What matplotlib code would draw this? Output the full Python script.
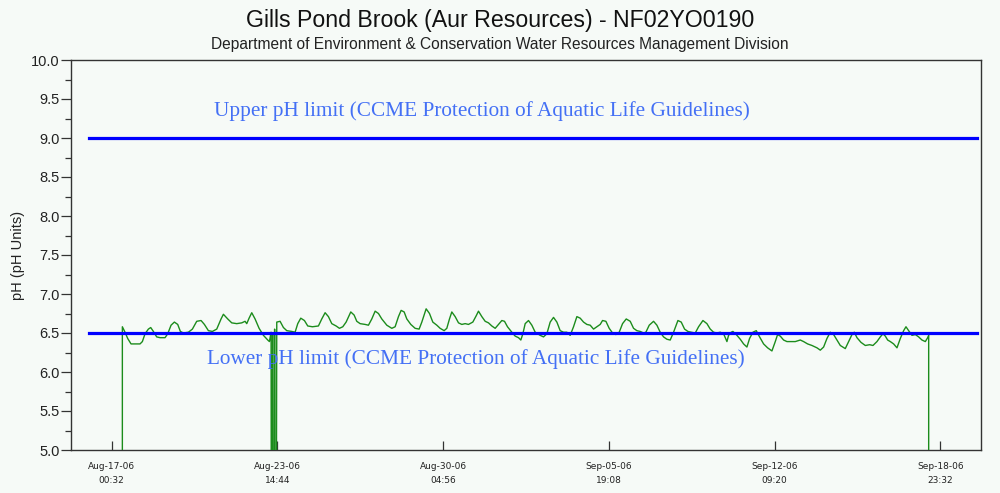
import matplotlib
matplotlib.use("Agg")
import matplotlib.pyplot as plt
import matplotlib.dates as mdates
from matplotlib.ticker import MultipleLocator, FormatStrFormatter
import numpy as np
import pandas as pd

# ---------------- data ----------------
title = "Gills Pond Brook (Aur Resources) - NF02YO0190"
subtitle = "Department of Environment & Conservation Water Resources Management Division"
y_label = "pH (pH Units)"
upper_text = "Upper pH limit (CCME Protection of Aquatic Life Guidelines)"
lower_text = "Lower pH limit (CCME Protection of Aquatic Life Guidelines)"

upper_limit = 9.0
lower_limit = 6.5

series_start = "2006-08-17 00:32"

tick_times = ["2006-08-17 00:32", "2006-08-23 14:44", "2006-08-30 04:56",
              "2006-09-05 19:08", "2006-09-12 09:20", "2006-09-18 23:32"]
tick_labels = ["Aug-17-06\n00:32", "Aug-23-06\n14:44", "Aug-30-06\n04:56",
               "Sep-05-06\n19:08", "Sep-12-06\n09:20", "Sep-18-06\n23:32"]

# days since series_start, pH readings (0.0 = logger out of water / no reading)
days_a = [0.423, 0.423, 0.529, 0.635, 0.768, 0.927, 1.126, 1.219, 1.325, 1.458,
          1.551, 1.657, 1.789, 1.922, 2.121, 2.227, 2.360, 2.492, 2.625, 2.731,
          2.850, 3.049, 3.209, 3.381, 3.554, 3.686, 3.845, 4.004, 4.177, 4.349,
          4.442, 4.615, 4.774, 4.973, 5.172, 5.304, 5.371, 5.464, 5.570, 5.702,
          5.862, 6.034, 6.207, 6.273, 6.339,
          6.360, 6.400, 6.440, 6.480, 6.520,
          6.565, 6.697, 6.830, 6.963, 7.162, 7.294, 7.400, 7.520, 7.665, 7.798,
          7.984, 8.222, 8.355]
ph_a = [0.00, 6.58, 6.51, 6.43, 6.36, 6.36, 6.36, 6.39, 6.49, 6.55,
        6.57, 6.52, 6.45, 6.44, 6.44, 6.49, 6.60, 6.64, 6.61, 6.52,
        6.50, 6.51, 6.55, 6.65, 6.66, 6.61, 6.53, 6.52, 6.55, 6.68,
        6.74, 6.68, 6.63, 6.62, 6.63, 6.65, 6.62, 6.69, 6.76, 6.68,
        6.56, 6.47, 6.41, 6.39, 6.51,
        0.00, 6.50, 0.00, 6.55, 0.00,
        6.64, 6.65, 6.57, 6.53, 6.52, 6.51, 6.62, 6.69, 6.66, 6.59,
        6.58, 6.59, 6.68]

days_b = [8.488, 8.620, 8.753, 8.926, 9.058, 9.191, 9.324, 9.509, 9.642, 9.748,
          9.881, 10.080, 10.212, 10.345, 10.478, 10.610, 10.743, 10.942, 11.141, 11.273,
          11.406, 11.512, 11.632, 11.738, 11.897, 12.069, 12.228, 12.335, 12.507, 12.640,
          12.772, 12.932, 13.064, 13.223, 13.329, 13.435, 13.528, 13.661, 13.794, 13.926,
          14.059, 14.191, 14.364, 14.497, 14.589, 14.722, 14.855, 14.987, 15.120, 15.253,
          15.385, 15.518, 15.624, 15.743, 15.916, 16.049, 16.181, 16.274, 16.354, 16.447]
ph_b = [6.76, 6.71, 6.62, 6.59, 6.56, 6.58, 6.64, 6.77, 6.73, 6.65,
        6.62, 6.61, 6.60, 6.68, 6.78, 6.75, 6.68, 6.60, 6.56, 6.58,
        6.71, 6.79, 6.77, 6.68, 6.61, 6.56, 6.55, 6.64, 6.81, 6.75,
        6.64, 6.60, 6.56, 6.53, 6.56, 6.68, 6.77, 6.71, 6.63, 6.61,
        6.62, 6.61, 6.64, 6.72, 6.78, 6.71, 6.65, 6.63, 6.59, 6.56,
        6.61, 6.66, 6.65, 6.58, 6.51, 6.46, 6.44, 6.41, 6.49, 6.62]

days_c = [16.579, 16.712, 16.845, 17.043, 17.176, 17.309, 17.441, 17.574, 17.707, 17.839,
          17.972, 18.105, 18.237, 18.370, 18.503, 18.635, 18.768, 18.900, 19.033, 19.166,
          19.298, 19.431, 19.524, 19.657, 19.789, 19.922, 20.054, 20.187, 20.320, 20.466,
          20.625, 20.757, 20.890, 21.023, 21.155, 21.248, 21.381, 21.553, 21.686, 21.818,
          21.951, 22.084, 22.216, 22.349, 22.522, 22.654, 22.787, 22.920, 23.052, 23.212,
          23.344, 23.517, 23.676, 23.808, 23.941, 24.073, 24.206, 24.339, 24.405, 24.472,
          24.537, 24.643]
ph_c = [6.66, 6.60, 6.51, 6.47, 6.45, 6.49, 6.64, 6.70, 6.64, 6.53,
        6.51, 6.51, 6.47, 6.58, 6.71, 6.69, 6.64, 6.61, 6.60, 6.55,
        6.58, 6.61, 6.66, 6.65, 6.56, 6.50, 6.48, 6.51, 6.62, 6.68,
        6.65, 6.56, 6.53, 6.52, 6.50, 6.51, 6.60, 6.65, 6.60, 6.51,
        6.45, 6.42, 6.41, 6.51, 6.66, 6.64, 6.55, 6.52, 6.51, 6.50,
        6.58, 6.66, 6.62, 6.55, 6.51, 6.50, 6.51, 6.49, 6.44, 6.39,
        6.47, 6.51]

days_d = [24.710, 24.843, 25.002, 25.134, 25.267, 25.373, 25.506, 25.639, 25.771, 25.930,
          26.089, 26.262, 26.395, 26.487, 26.594, 26.726, 26.859, 26.992, 27.191, 27.390,
          27.522, 27.681, 27.854, 28.053, 28.186, 28.318, 28.451, 28.583, 28.716, 28.849,
          28.981, 29.180, 29.313, 29.446, 29.538, 29.645, 29.804, 29.976, 30.149, 30.281,
          30.440, 30.573, 30.679, 30.772, 30.865, 30.971, 31.103, 31.236, 31.369, 31.501,
          31.594, 31.700, 31.833, 31.966, 32.098, 32.231, 32.364, 32.457, 32.497, 32.497]
ph_d = [6.52, 6.48, 6.42, 6.36, 6.32, 6.43, 6.51, 6.53, 6.45, 6.36,
        6.31, 6.27, 6.39, 6.48, 6.46, 6.41, 6.39, 6.39, 6.39, 6.41,
        6.39, 6.36, 6.34, 6.31, 6.28, 6.32, 6.43, 6.51, 6.48, 6.41,
        6.34, 6.30, 6.39, 6.48, 6.51, 6.44, 6.38, 6.34, 6.35, 6.34,
        6.39, 6.45, 6.49, 6.46, 6.41, 6.39, 6.36, 6.31, 6.43, 6.53,
        6.58, 6.53, 6.47, 6.48, 6.45, 6.41, 6.39, 6.44, 6.47, 0.00]

# ---------------- styling ----------------
bg = "#F6FAF7"
green = "#1C8C1C"
limit_blue = "#0000FF"
text_blue = "#4470F5"

plt.rcParams["font.family"] = ["Liberation Sans", "DejaVu Sans"]

days = np.array(days_a + days_b + days_c + days_d)
ph = np.array(ph_a + ph_b + ph_c + ph_d)
t0 = pd.Timestamp(series_start)
times = t0 + pd.to_timedelta(days, unit="D")
ticks = pd.to_datetime(tick_times)

fig = plt.figure(figsize=(10, 4.93), dpi=100, facecolor=bg)
ax = fig.add_axes([0.071, 43 / 493, 0.910, 390 / 493], facecolor=bg)

ax.plot(times, ph, color=green, lw=1.0, zorder=3)

ax.axhline(upper_limit, xmin=0.0198, xmax=0.9956, color=limit_blue, lw=2.3, zorder=4)
ax.axhline(lower_limit, xmin=0.0198, xmax=0.9956, color=limit_blue, lw=2.3, zorder=4)

ax.text(0.452, 0.870, upper_text, transform=ax.transAxes, ha="center", va="center",
        color=text_blue, fontsize=15.3, family=["Liberation Serif", "DejaVu Serif"])
ax.text(0.445, 0.234, lower_text, transform=ax.transAxes, ha="center", va="center",
        color=text_blue, fontsize=15.3, family=["Liberation Serif", "DejaVu Serif"])

margin = pd.Timedelta(days=1.62)
ax.set_xlim(ticks[0] - margin, ticks[-1] + margin)
ax.set_ylim(5.0, 10.0)

ax.set_xticks(ticks)
ax.set_xticklabels(tick_labels, fontsize=6.5, family=["DejaVu Sans"], color="#222222",
                   linespacing=1.75)
ax.tick_params(axis="x", direction="in", length=6.5, width=0.9, color="#333333", pad=8.5)

ax.yaxis.set_major_locator(MultipleLocator(0.5))
ax.yaxis.set_minor_locator(MultipleLocator(0.25))
ax.yaxis.set_major_formatter(FormatStrFormatter("%.1f"))
ax.tick_params(axis="y", which="major", direction="out", length=7, width=0.9,
               color="#333333", labelsize=10.5, labelcolor="#222222", pad=1)
ax.tick_params(axis="y", which="minor", direction="out", length=4, width=0.9, color="#333333")

for s in ax.spines.values():
    s.set_color("#333333")
    s.set_linewidth(1.0)

fig.text(0.5, 1 - 20 / 493, title, ha="center", va="center", fontsize=16.7, color="#111111")
fig.text(0.5, 1 - 45 / 493, subtitle, ha="center", va="center", fontsize=11.2, color="#222222")
fig.text(0.018, 1 - 255 / 493, y_label, ha="center", va="center", rotation=90,
         fontsize=10.5, color="#222222")

fig.savefig("out.png", dpi=100, facecolor=bg)
